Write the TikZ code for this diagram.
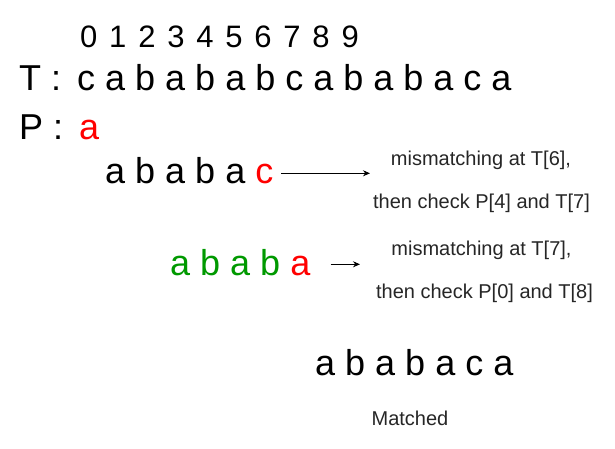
\documentclass[tikz,border=0pt]{standalone}
\usepackage{fontspec}
\setmainfont{Liberation Sans}
\usetikzlibrary{arrows.meta}
\definecolor{mred}{HTML}{FF0000}
\definecolor{mgreen}{HTML}{009900}
\newcommand\bigtxt{\fontsize{36}{40}\selectfont}
\newcommand\digtxt{\fontsize{31}{36}\selectfont\spaceskip=11.8pt\relax}
\newcommand\smalltxt{\fontsize{20}{24}\selectfont}
\begin{document}
\begin{tikzpicture}[x=1pt,y=-1pt,
  lbl/.style={inner sep=0pt,anchor=base west,font=\bigtxt},
  note/.style={inner sep=0pt,anchor=base,font=\smalltxt,text=black!85},
  arr/.style={-{Stealth[length=7pt,width=6pt]},line width=0.9pt}]
\useasboundingbox[fill=white] (0,0) rectangle (615,449);
% indices
\node[inner sep=0pt,anchor=base west,font=\digtxt] (idx) at (80,48) {0 1 2 3 4 5 6 7 8 9};
% text T
\node[lbl] (tl) at (19,91) {T :};
\node[lbl] (tt) at (77,91) {c a b a b a b c a b a b a c a};
% pattern P
\node[lbl] (pl) at (19,140) {P :};
\node[lbl,text=mred] (p0) at (79,140) {a};
% attempt 1
\node[lbl] (w1) at (105,183) {a b a b a \textcolor{mred}{c}};
\coordinate (a1s) at (281,173.3);
\coordinate (a1e) at (370,173.3);
\draw[arr] (a1s) -- (a1e);
\node[note] (n1a) at (481,165.7) {mismatching at T[6],};
\node[note] (n1b) at (481.5,208) {then check P[4] and T[7]};
% attempt 2
\node[lbl,text=mgreen] (w2) at (170,275) {a b a b \textcolor{mred}{a}};
\coordinate (a2s) at (330.5,264.3);
\coordinate (a2e) at (360,264.3);
\draw[arr] (a2s) -- (a2e);
\node[note] (n2a) at (481.5,255) {mismatching at T[7],};
\node[note] (n2b) at (484.5,298) {then check P[0] and T[8]};
% match
\node[lbl] (w3) at (315,375) {a b a b a c a};
\node[note] (n3) at (410,425) {Matched};
\end{tikzpicture}
\end{document}
